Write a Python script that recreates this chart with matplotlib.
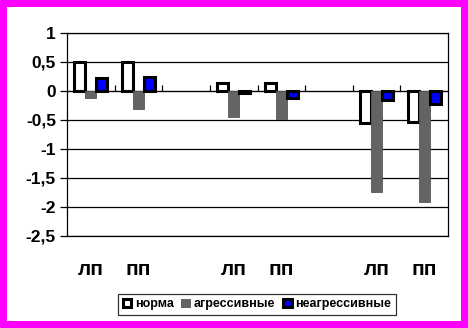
import numpy as np
import matplotlib
matplotlib.use('Agg')
import matplotlib.pyplot as plt
from matplotlib.patches import Rectangle

plt.rcParams['font.family'] = ['Liberation Sans', 'DejaVu Sans']
plt.rcParams['font.weight'] = 'bold'

categories = ['лп', 'пп', '', 'лп', 'пп', '', 'лп', 'пп']
norma = [0.50, 0.50, np.nan, 0.14, 0.13, np.nan, -0.55, -0.53]
aggr = [-0.12, -0.31, np.nan, -0.45, -0.49, np.nan, -1.74, -1.92]
neaggr = [0.22, 0.25, np.nan, -0.04, -0.12, np.nan, -0.15, -0.23]
series_names = ['норма', 'агрессивные', 'неагрессивные']

fig = plt.figure(figsize=(4.68, 3.28), dpi=100, facecolor='#ff00ff')
# white inner page
fig.patches.append(Rectangle((7/468, 7/328), 454/468, 314/328, transform=fig.transFigure,
                             facecolor='white', edgecolor='none', zorder=-10))

ax = fig.add_axes([67/468, 92/328, 381/468, 203/328])
ax.set_zorder(2)
ax.patch.set_alpha(0)
x = np.arange(len(categories))
w = 0.23

b1 = ax.bar(x - w, norma, w, color='white', edgecolor='black', linewidth=2.2, zorder=3)
b2 = ax.bar(x, aggr, w, color='#646464', edgecolor='#555555', linewidth=0.6, zorder=3)
b3 = ax.bar(x + w, neaggr, w, color='#0000ff', edgecolor='black', linewidth=2.2, zorder=3)

ax.set_xlim(-0.5, len(categories) - 0.5)
ax.set_ylim(-2.5, 1)
yt = np.arange(-2.5, 1.01, 0.5)
ax.set_yticks(yt)
ax.set_yticklabels([('%g' % v).replace('.', ',') for v in yt], fontsize=12.5, fontweight='bold')
for v in yt:
    ax.axhline(v, color='black', linewidth=0.9, zorder=1)
ax.tick_params(axis='y', direction='out', length=5, width=0.9, pad=3)

ax.set_xticks(x)
ax.set_xticklabels(categories, fontsize=15, fontweight='bold')
ax.tick_params(axis='x', length=0, pad=17)

for s in ax.spines.values():
    s.set_linewidth(0.9)

# category axis crossing at zero
sec = ax.secondary_xaxis(2.5 / 3.5)
sec.set_xticks(x[:-1] + 0.5)
sec.set_xticklabels([])
sec.tick_params(direction='out', length=4.5, width=0.9)
sec.spines['bottom'].set_visible(False)

leg = fig.legend([b1, b2, b3], series_names, loc='center', bbox_to_anchor=(0.549, 0.072),
                 ncol=3, frameon=True, fancybox=False, shadow=False,
                 handlelength=0.7, handleheight=0.7, handletextpad=0.3, columnspacing=0.6,
                 borderpad=0.35, prop={'weight': 'bold', 'size': 9})
leg.get_frame().set_edgecolor('black')
leg.get_frame().set_linewidth(0.9)

fig.savefig('out.png', dpi=100, facecolor=fig.get_facecolor())
